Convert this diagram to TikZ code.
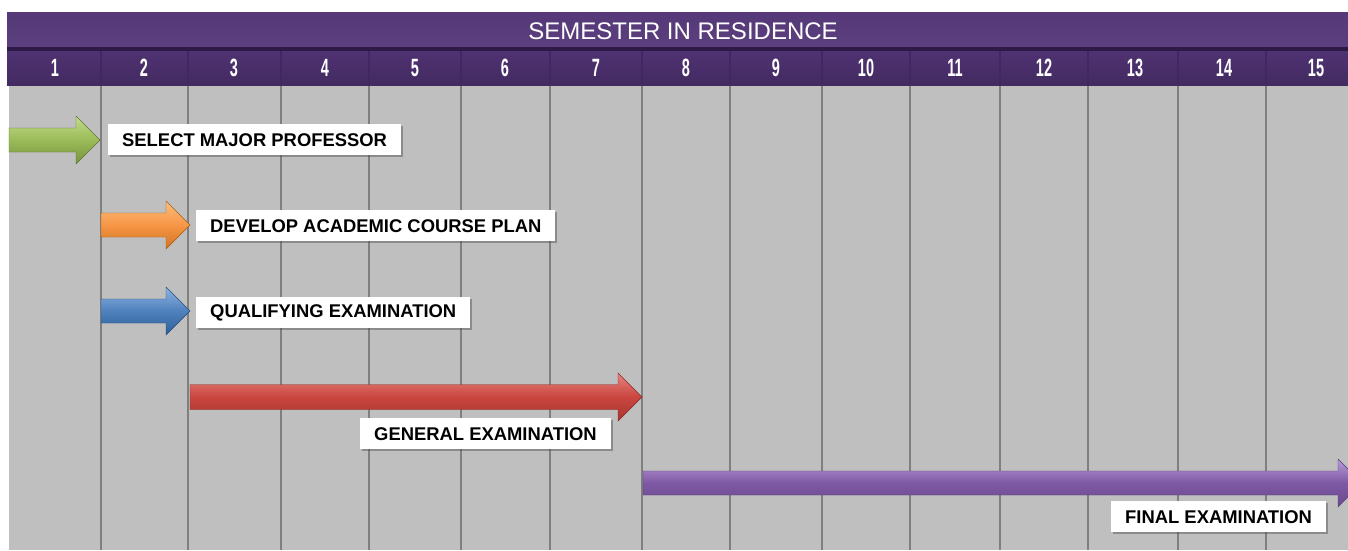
\documentclass[tikz,border=0pt]{standalone}
\usepackage{fontspec}
\setmainfont{Liberation Sans}
\usetikzlibrary{shadows}
\definecolor{gridbg}{HTML}{BFBFBF}
\definecolor{gridline}{HTML}{7F7F7F}
\definecolor{bartop}{HTML}{553877}
\definecolor{barmid}{HTML}{5C3F7E}
\definecolor{bardark}{HTML}{2E1A47}
\definecolor{rowcol}{HTML}{4F3272}
\definecolor{rowsep}{HTML}{43285F}
\definecolor{gA}{HTML}{C3DC8A}\definecolor{gB}{HTML}{9BBB59}\definecolor{gC}{HTML}{76933C}
\definecolor{oA}{HTML}{FBBE7E}\definecolor{oB}{HTML}{F79646}\definecolor{oC}{HTML}{D0741F}
\definecolor{bA}{HTML}{8DB3E2}\definecolor{bB}{HTML}{4F81BD}\definecolor{bC}{HTML}{2E5E98}
\definecolor{rA}{HTML}{E8837F}\definecolor{rB}{HTML}{C9463F}\definecolor{rC}{HTML}{A83430}
\definecolor{pA}{HTML}{B79BD8}\definecolor{pB}{HTML}{7E58A4}\definecolor{pC}{HTML}{6A4A8E}
\tikzset{
  lbl/.style={fill=white, anchor=north west, inner xsep=14pt, inner ysep=0pt,
    minimum height=31pt, font=\fontsize{18.4}{20}\selectfont\bfseries,
    drop shadow={shadow xshift=2pt, shadow yshift=-2pt, opacity=0.45, fill=black!70}},
  num/.style={text=white, inner sep=0pt, font=\fontsize{25}{25}\selectfont\bfseries},
  ttl/.style={text=white, inner sep=0pt, font=\fontsize{24}{24}\selectfont},
  gline/.style={line width=2.5pt, draw=gridline}
}
% block arrow: start x, tip x, mid y, light, base, dark, shaft half-height
\newcommand\blockarr[7]{%
  \shade[top color=#4, bottom color=#6, middle color=#5, draw=#6!80!black, line width=0.4pt]
    (#1,#3-#7) -- (#2-24,#3-#7) -- (#2-24,#3-24) -- (#2,#3) -- (#2-24,#3+24)
    -- (#2-24,#3+#7) -- (#1,#3+#7) -- cycle;}
\begin{document}
\begin{tikzpicture}[x=1pt,y=-1pt]
\useasboundingbox (0,0) rectangle (1348,550);
\fill[white] (0,0) rectangle (1348,550);
\begin{scope}
\clip (0,0) rectangle (1348,550);
\fill[gridbg] (9,85) rectangle (1348,550);
\foreach \x in {101,188,281,369,461,550,642,730,822,910,1000,1088,1178,1266}
  \draw[gline] (\x,85) -- (\x,550);
% header
\shade[top color=bartop, bottom color=barmid] (7,12) rectangle (1348,47);
\fill[bardark] (7,47) rectangle (1348,51);
\shade[top color=rowcol, bottom color=rowcol!85!black] (7,51) rectangle (1348,85);
\foreach \x in {101,188,281,369,461,550,642,730,822,910,1000,1088,1178,1266}
  \draw[line width=2pt, rowsep] (\x,51) -- (\x,85);
\node[ttl] (title) at (683,31) {SEMESTER IN RESIDENCE};
\foreach \n/\x in {1/55,2/144,3/234,4/325,5/415,6/505,7/596,8/686,9/776,10/866,11/955,12/1044,13/1135,14/1224,15/1316}
  \node[num] (n\n) at (\x,68) {\scalebox{0.58}[1]{\n}};
% arrows
\blockarr{9}{100}{140}{gA}{gB}{gC}{12}
\blockarr{101}{190}{225}{oA}{oB}{oC}{12}
\blockarr{101}{190}{311}{bA}{bB}{bC}{12}
\blockarr{190}{642}{397}{rA}{rB}{rC}{12.5}
\blockarr{643}{1362}{483}{pA}{pB}{pC}{12}
\end{scope}
% labels
\node[lbl] (l1) at (108,124) {SELECT MAJOR PROFESSOR};
\node[lbl] (l2) at (196,210) {DEVELOP ACADEMIC COURSE PLAN};
\node[lbl] (l3) at (196,297) {QUALIFYING EXAMINATION};
\node[lbl] (l4) at (360,418) {GENERAL EXAMINATION};
\node[lbl] (l5) at (1111,501) {FINAL EXAMINATION};
\end{tikzpicture}
\end{document}
